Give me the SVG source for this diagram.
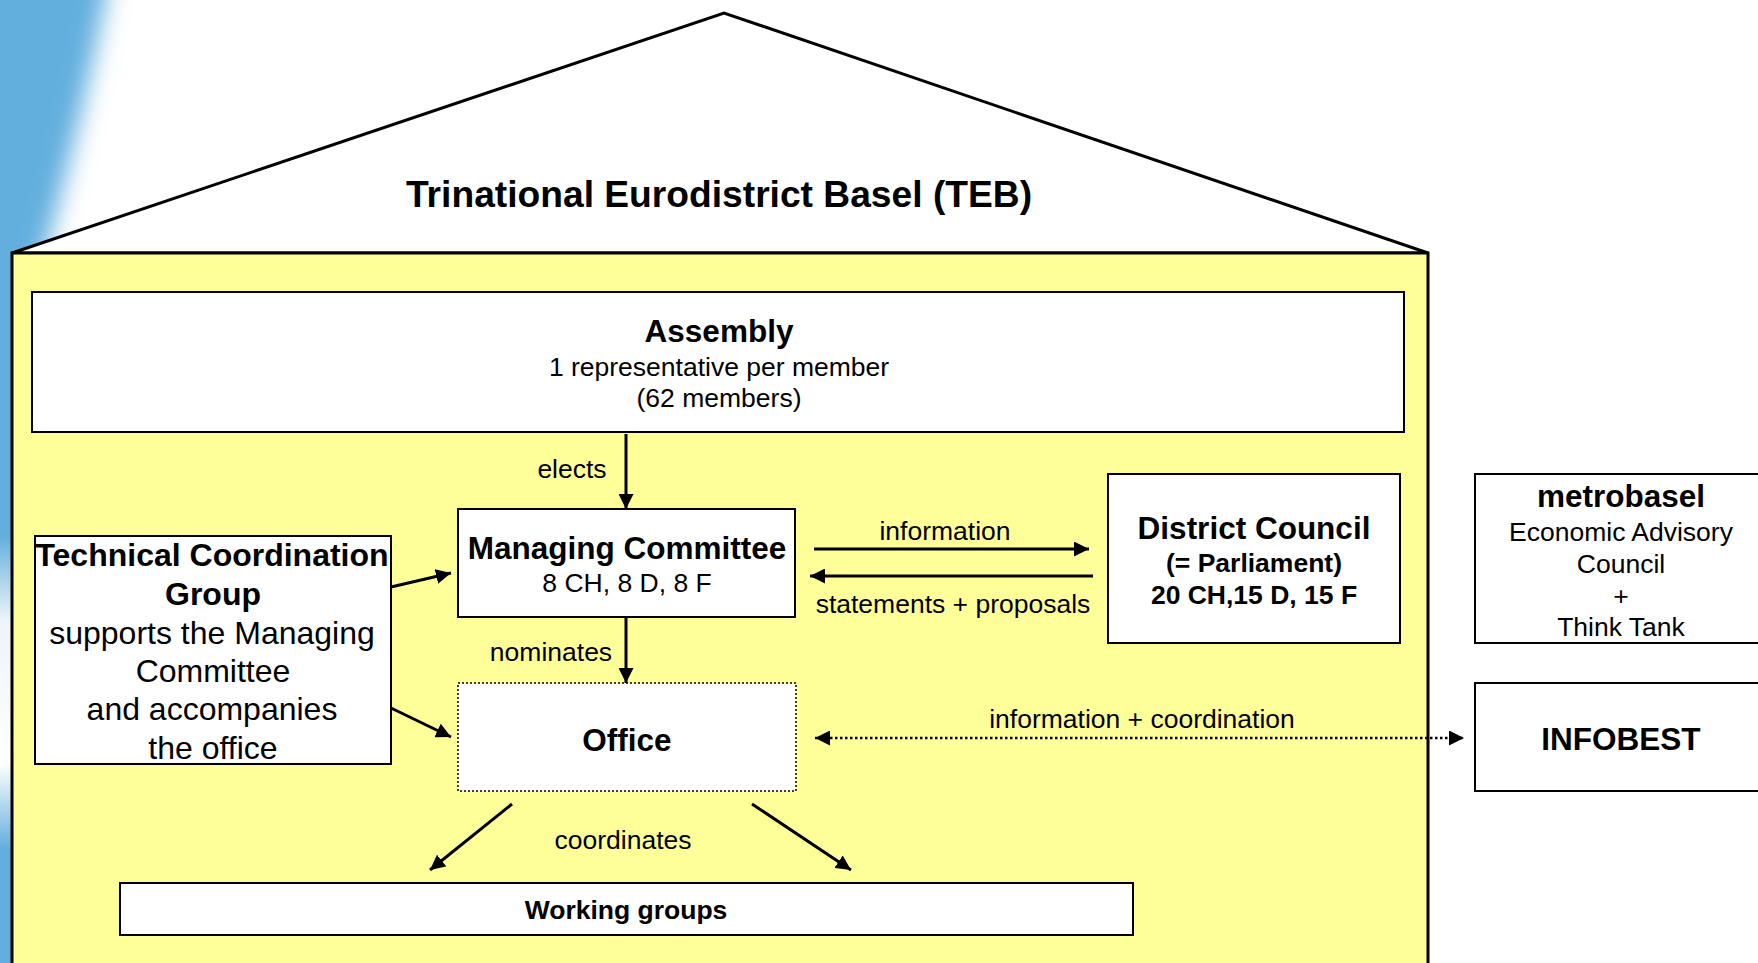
<svg xmlns="http://www.w3.org/2000/svg" width="1758" height="963" viewBox="0 0 1758 963">
<defs>
<style>
.box{fill:#fff;stroke:#000;stroke-width:2}
.t{font-family:"Liberation Sans",Arial,sans-serif;fill:#000;text-anchor:middle}
.b{font-weight:bold}
.big{font-size:31.5px}
.sm{font-size:26.5px}
.ln{stroke:#000;stroke-width:3;fill:none}
.dot{stroke:#000;stroke-width:2.5;fill:none;stroke-dasharray:2.5 2.5}
</style>
<marker id="ah" viewBox="0 0 10 10" refX="10" refY="5" markerWidth="15" markerHeight="15" markerUnits="userSpaceOnUse" orient="auto-start-reverse">
<path d="M0,0 L10,5 L0,10 Z" fill="#000"/>
</marker>
<filter id="blur" x="-1" y="-1" width="3" height="3"><feGaussianBlur stdDeviation="12"/></filter>
<linearGradient id="strip" x1="0" y1="0" x2="0" y2="1">
<stop offset="0" stop-color="#62AEDD"/>
<stop offset="0.4" stop-color="#62AEDD"/>
<stop offset="0.52" stop-color="#eef4fa"/>
<stop offset="0.72" stop-color="#ffffff"/>
<stop offset="0.84" stop-color="#62AEDD"/>
<stop offset="1" stop-color="#62AEDD"/>
</linearGradient>
</defs>
<rect width="1758" height="963" fill="#fff"/>
<g id="background">
<path d="M-60,-40 L112,-40 C92,80 60,200 32,300 L10,480 L-60,480 Z" fill="#62AEDD" filter="url(#blur)"/>
<rect x="0" y="250" width="14" height="713" fill="url(#strip)"/>
</g>
<g id="house">
<polygon points="12,253 724,13 1428,253" fill="#fff" stroke="#000" stroke-width="3" stroke-linejoin="miter"/>
<rect x="12" y="253" width="1416" height="730" fill="#FFFF99" stroke="#000" stroke-width="3"/>
<text class="t b" x="719" y="207" font-size="37.2">Trinational Eurodistrict Basel (TEB)</text>
</g>
<g id="assembly">
<rect class="box" x="32" y="292" width="1372" height="140"/>
<text class="t b big" x="719" y="342">Assembly</text>
<text class="t sm" x="719" y="376">1 representative per member</text>
<text class="t sm" x="719" y="407">(62 members)</text>
</g>
<g id="managing-committee">
<rect class="box" x="458" y="509" width="337" height="108"/>
<text class="t b big" x="627" y="559">Managing Committee</text>
<text class="t sm" x="627" y="592">8 CH, 8 D, 8 F</text>
</g>
<g id="technical-coordination-group">
<rect class="box" x="35" y="536" width="356" height="228"/>
<text class="t b" x="212" y="566" font-size="32">Technical Coordination</text>
<text class="t b" x="213" y="605" font-size="32">Group</text>
<text class="t" x="212" y="644" font-size="32">supports the Managing</text>
<text class="t" x="213" y="682" font-size="32">Committee</text>
<text class="t" x="212" y="720" font-size="32">and accompanies</text>
<text class="t" x="213" y="759" font-size="32">the office</text>
</g>
<g id="office">
<rect x="458" y="683" width="338" height="108" fill="#fff" stroke="#000" stroke-width="1.5" stroke-dasharray="2 2"/>
<text class="t b big" x="627" y="751">Office</text>
</g>
<g id="district-council">
<rect class="box" x="1108" y="474" width="292" height="169"/>
<text class="t b big" x="1254" y="539">District Council</text>
<text class="t b sm" x="1254" y="572">(= Parliament)</text>
<text class="t b sm" x="1254" y="604">20 CH,15 D, 15 F</text>
</g>
<g id="metrobasel">
<rect class="box" x="1475" y="474" width="300" height="169"/>
<text class="t b big" x="1621" y="507">metrobasel</text>
<text class="t sm" x="1621" y="541">Economic Advisory</text>
<text class="t sm" x="1621" y="573">Council</text>
<text class="t sm" x="1621" y="605">+</text>
<text class="t sm" x="1621" y="636">Think Tank</text>
</g>
<g id="infobest">
<rect class="box" x="1475" y="683" width="300" height="108"/>
<text class="t b big" x="1621" y="750">INFOBEST</text>
</g>
<g id="working-groups">
<rect class="box" x="120" y="883" width="1013" height="52"/>
<text class="t b sm" x="626" y="919">Working groups</text>
</g>
<g id="connectors">
<line class="ln" x1="626" y1="434" x2="626" y2="509" marker-end="url(#ah)"/>
<text class="t sm" x="572" y="478">elects</text>
<line class="ln" x1="626" y1="617" x2="626" y2="683" marker-end="url(#ah)"/>
<text class="t sm" x="551" y="661">nominates</text>
<line class="ln" x1="391" y1="587" x2="451" y2="573" marker-end="url(#ah)"/>
<line class="ln" x1="391" y1="708" x2="451" y2="737" marker-end="url(#ah)"/>
<line class="ln" x1="814" y1="549" x2="1089" y2="549" marker-end="url(#ah)"/>
<text class="t sm" x="945" y="540">information</text>
<line class="ln" x1="1093" y1="576" x2="810" y2="576" marker-end="url(#ah)"/>
<text class="t sm" x="953" y="613">statements + proposals</text>
<line class="dot" x1="815" y1="738" x2="1464" y2="738" marker-start="url(#ah)" marker-end="url(#ah)"/>
<text class="t sm" x="1142" y="728">information + coordination</text>
<line class="ln" x1="512" y1="804" x2="430" y2="870" stroke-width="2.5" marker-end="url(#ah)"/>
<line class="ln" x1="752" y1="804" x2="851" y2="870" stroke-width="2.5" marker-end="url(#ah)"/>
<text class="t sm" x="623" y="849">coordinates</text>
</g>
</svg>
